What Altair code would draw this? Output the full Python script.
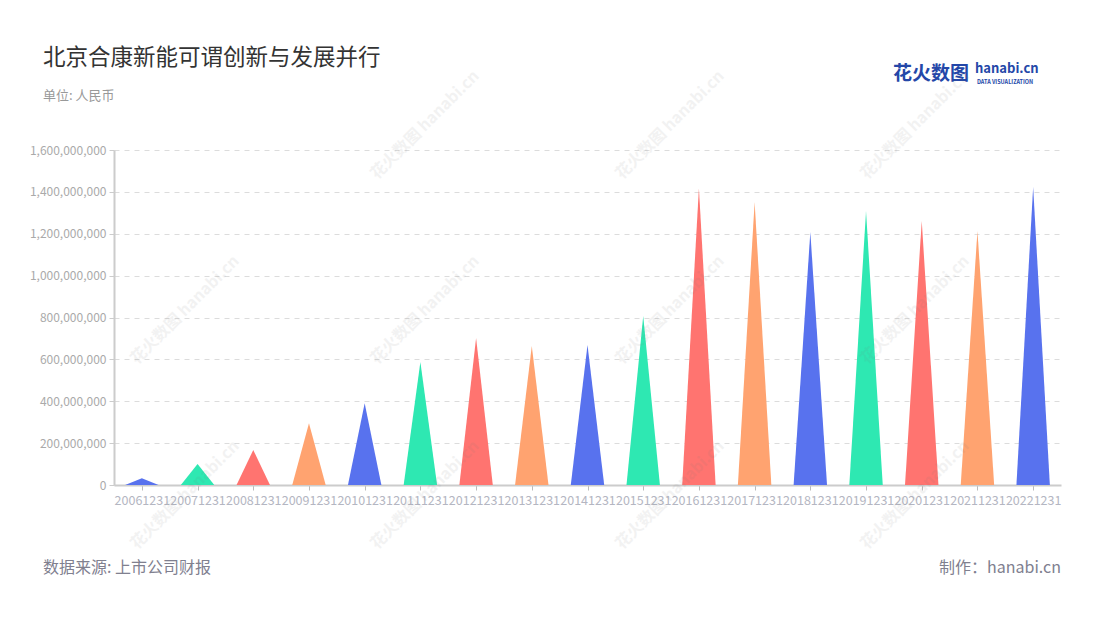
import altair as alt
import pandas as pd

labels = ["20061231", "20071231", "20081231", "20091231", "20101231", "20111231",
          "20121231", "20131231", "20141231", "20151231", "20161231", "20171231",
          "20181231", "20191231", "20201231", "20211231", "20221231"]
values = [32e6, 100e6, 167e6, 295e6, 390e6, 587e6, 702e6, 664e6, 669e6, 807e6,
          1417e6, 1350e6, 1208e6, 1309e6, 1261e6, 1213e6, 1423e6]
palette = ["#5872EE", "#2EE8B2", "#FF7470", "#FFA370"]
y_ticks = [0, 200e6, 400e6, 600e6, 800e6, 1000e6, 1200e6, 1400e6, 1600e6]

HALF = 0.3  # half width of each triangle, in category units
rows = []
for i, (lab, v) in enumerate(zip(labels, values)):
    for dx, yy in ((-HALF, 0.0), (0.0, v), (HALF, 0.0)):
        rows.append({"label": lab, "x": i + dx, "v": yy, "c": str(i % 4)})
df = pd.DataFrame(rows)

FONT = "Noto Sans CJK SC"
W, H = 947, 335

label_expr = "[" + ",".join("'%s'" % l for l in labels) + "][round(datum.value)]"

tri = alt.Chart(df).mark_area(interpolate="linear", opacity=1).encode(
    x=alt.X("x:Q",
            scale=alt.Scale(domain=[-0.5, len(labels) - 0.5], nice=False, zero=False),
            axis=alt.Axis(values=list(range(len(labels))), labelExpr=label_expr,
                          title=None, grid=False, domainColor="#cccccc", domainWidth=2,
                          tickColor="#bbbbbb", tickSize=5, labelColor="#b4b6c2",
                          labelFontSize=12.5, labelPadding=4, labelFont=FONT,
                          labelOverlap=False)),
    y=alt.Y("v:Q", stack=None,
            scale=alt.Scale(domain=[0, 1.6e9], nice=False),
            axis=alt.Axis(values=y_ticks, format=",d", title=None,
                          grid=True, gridDash=[5, 5], gridColor="#dcdcdc",
                          domainColor="#cccccc", domainWidth=2,
                          tickColor="#cccccc", tickSize=5,
                          labelColor="#aaaaaa", labelFontSize=12, labelFont=FONT,
                          labelPadding=3)),
    color=alt.Color("c:N", scale=alt.Scale(domain=["0", "1", "2", "3"], range=palette),
                    legend=None),
    detail="label:N",
)


def txt(text, x, y, size, color, align="left", weight="normal", angle=0,
        opacity=1.0, baseline="alphabetic"):
    kw = dict(fontSize=size, color=color, align=align, fontWeight=weight,
              font=FONT, baseline=baseline, opacity=opacity)
    if angle:
        kw["angle"] = angle
    return alt.Chart(pd.DataFrame({"t": [text]})).mark_text(**kw).encode(
        x=alt.value(x), y=alt.value(y), text="t:N")

layers = [tri]
layers.append(txt("北京合康新能可谓创新与发展并行", -71, -85, 22.5, "#333333"))
layers.append(txt("单位: 人民币", -71, -50, 13, "#999999"))
layers.append(txt("数据来源: 上市公司财报", -71, 423, 16, "#80808f"))
layers.append(txt("制作：hanabi.cn", 947, 423, 16, "#80808f", align="right"))
layers.append(txt("花火数图", 779, -70, 19, "#2447a8", weight="bold"))
layers.append(txt("hanabi.cn", 861, -77, 13, "#2447a8", weight="bold"))
layers.append(txt("DATA VISUALIZATION", 863, -66, 5.5, "#2447a8", weight="bold"))

wm_pos = [(311, -25), (556, -25), (801, -25),
          (71, 160), (311, 160), (556, 160), (801, 160),
          (71, 345), (311, 345), (556, 345), (801, 345)]
for (px, py) in wm_pos:
    layers.append(txt("花火数图 hanabi.cn", px, py, 16, "#777777", align="center",
                      weight="bold", angle=315, opacity=0.09, baseline="middle"))

chart = alt.layer(*layers).properties(
    width=W, height=H,
    autosize=alt.AutoSizeParams(type="none"),
    padding={"left": 106, "top": 142, "right": 31, "bottom": 118},
).configure(font=FONT).configure_view(stroke=None, strokeWidth=0)

chart.save("out.html", embed_options={"renderer": "svg", "actions": False})
